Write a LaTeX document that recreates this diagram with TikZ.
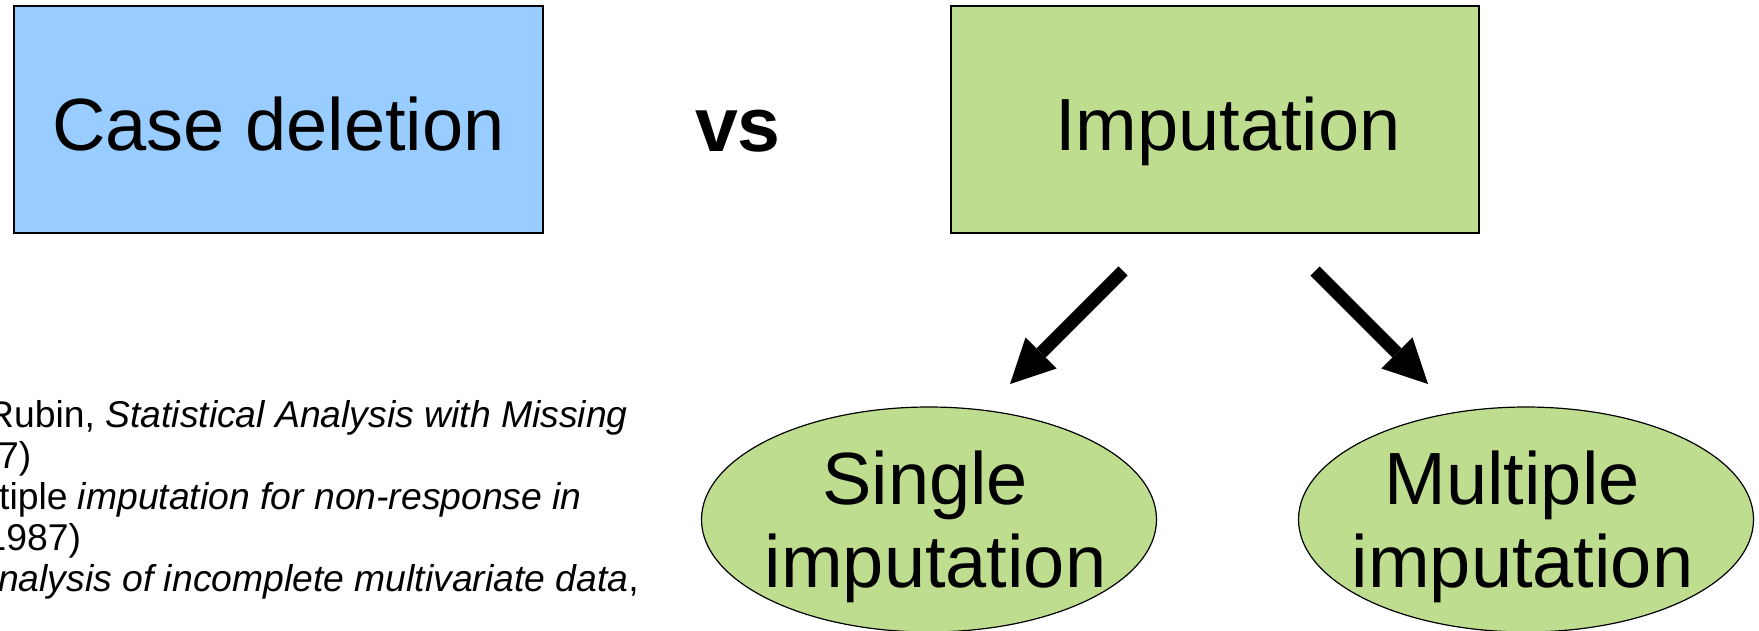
\documentclass[tikz,border=0pt]{standalone}
\usepackage{fontspec}
\setmainfont{Liberation Sans}
\usetikzlibrary{arrows.meta,shapes.geometric}
\definecolor{caseblue}{RGB}{153,204,255}
\definecolor{impgreen}{RGB}{191,221,143}

\begin{document}
\begin{tikzpicture}[x=1pt,y=-1pt,
  box/.style={draw=black,line width=1.5pt,inner sep=0pt},
  oval/.style={ellipse,draw=black,line width=1.2pt,fill=impgreen,inner sep=0pt,
               minimum width=455pt,minimum height=225pt},
  big/.style={font=\fontsize{74}{83}\selectfont,inner sep=0pt},
  refline/.style={font=\fontsize{37.3}{41}\selectfont,inner sep=0pt,anchor=base west},
  fat/.style={line width=13pt,
              -{Triangle[length=44pt,width=44pt,line width=0pt]}}]

  \useasboundingbox (0,0) rectangle (1759,630);

  % the two approaches
  \node[box,fill=caseblue,minimum width=529pt,minimum height=227pt] (cd) at (278.3,119.3) {};
  \node[big,anchor=base] (cdt) at (278.6,150) {Case deletion};

  \node[font=\fontsize{77}{86}\selectfont\bfseries,inner sep=0pt,anchor=base] (vs) at (738,151) {vs};

  \node[box,fill=impgreen,minimum width=528pt,minimum height=227pt] (imp) at (1214.9,119.3) {};
  \node[big,anchor=base] (impt) at (1227.8,150) {Imputation};

  % kinds of imputation
  \node[oval] (single) at (929,519.5) {};
  \node[big,align=center] (singlet) at (935.5,527) {Single\kern0.278em\\imputation};

  \node[oval] (multi) at (1526,519.5) {};
  \node[big,align=center] (multit) at (1522.5,527) {Multiple\kern0.278em\\imputation};

  % arrows from the imputation box down to its two kinds
  \coordinate (l0) at (1123,271);
  \coordinate (l1) at (1010,384);
  \coordinate (r0) at (1315,271);
  \coordinate (r1) at (1428,384);
  \draw[fat] (l0) -- (l1);
  \draw[fat] (r0) -- (r1);

  % references
  \node[refline] (ref1) at (-13,427.7) {Rubin, \textit{Statistical Analysis with Missing}};
  \node[refline] (ref2) at (-2,468.7) {7)};
  \node[refline] (ref3) at (-1,509.7) {tiple \textit{imputation for non-response in}};
  \node[refline] (ref4) at (-14.5,550.7) {1987)};
  \node[refline] (ref5) at (-2,591.7) {\textit{nalysis of incomplete multivariate data},};
\end{tikzpicture}
\end{document}
